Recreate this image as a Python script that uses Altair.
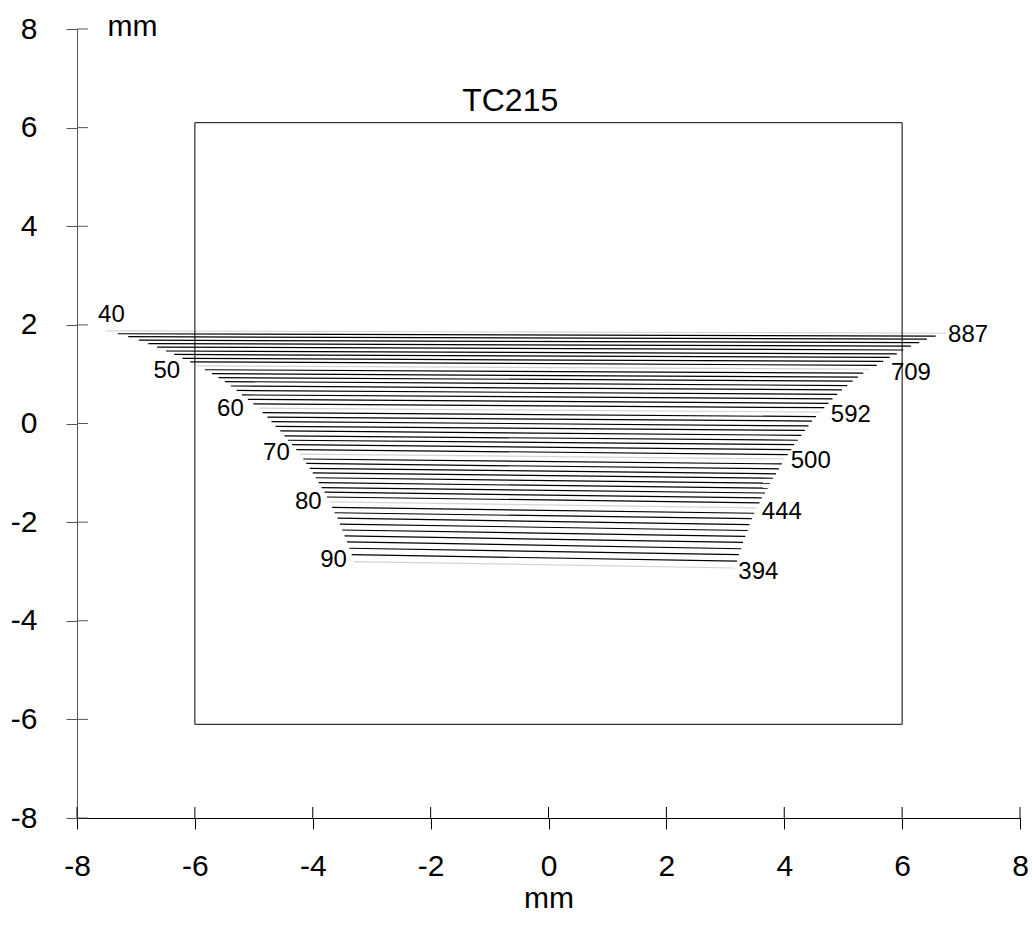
import altair as alt
import pandas as pd

# ---- data ----
angles = list(range(40, 91))
x_left = [-7.51, -7.31, -7.13, -6.95, -6.79, -6.64, -6.49, -6.35, -6.21, -6.08,
          -5.96, -5.83, -5.71, -5.60, -5.49, -5.39, -5.29, -5.20, -5.10, -5.01,
          -4.92, -4.85, -4.77, -4.70, -4.63, -4.55, -4.48, -4.42, -4.35, -4.28,
          -4.22, -4.16, -4.11, -4.05, -4.00, -3.95, -3.90, -3.85, -3.80, -3.76,
          -3.71, -3.67, -3.63, -3.58, -3.54, -3.50, -3.46, -3.42, -3.38, -3.34,
          -3.30]
y_left = [1.88, 1.82, 1.76, 1.69, 1.62, 1.55, 1.47, 1.40, 1.32, 1.25,
          1.17, 1.09, 1.01, 0.93, 0.85, 0.76, 0.67, 0.58, 0.49, 0.40,
          0.31, 0.22, 0.13, 0.04, -0.06, -0.15, -0.25, -0.34, -0.43, -0.53,
          -0.62, -0.72, -0.81, -0.91, -1.00, -1.10, -1.20, -1.30, -1.39, -1.49,
          -1.59, -1.70, -1.81, -1.92, -2.04, -2.16, -2.28, -2.40, -2.53, -2.66,
          -2.80]
x_right = [6.73, 6.57, 6.42, 6.29, 6.15, 6.02, 5.91, 5.79, 5.68, 5.57,
           5.44, 5.34, 5.25, 5.16, 5.07, 4.98, 4.90, 4.82, 4.75, 4.68,
           4.61, 4.54, 4.47, 4.41, 4.35, 4.29, 4.23, 4.17, 4.12, 4.06,
           4.01, 3.96, 3.91, 3.86, 3.81, 3.76, 3.72, 3.67, 3.62, 3.58,
           3.53, 3.49, 3.45, 3.41, 3.38, 3.34, 3.30, 3.27, 3.23, 3.20,
           3.16]
y_right = [1.83, 1.77, 1.71, 1.64, 1.57, 1.49, 1.41, 1.34, 1.26, 1.18,
           1.10, 1.02, 0.94, 0.86, 0.77, 0.68, 0.59, 0.50, 0.41, 0.32,
           0.23, 0.14, 0.05, -0.05, -0.14, -0.24, -0.34, -0.43, -0.53, -0.63,
           -0.72, -0.82, -0.92, -1.02, -1.11, -1.21, -1.31, -1.41, -1.51, -1.61,
           -1.71, -1.82, -1.93, -2.05, -2.17, -2.29, -2.41, -2.54, -2.66, -2.79,
           -2.93]

left_labels = ["40", "50", "60", "70", "80", "90"]
left_label_x = [-7.19, -6.25, -5.17, -4.39, -3.85, -3.42]
left_label_y = [2.20, 1.07, 0.30, -0.60, -1.59, -2.77]

right_labels = ["887", "709", "592", "500", "444", "394"]
right_label_x = [6.78, 5.81, 4.79, 4.11, 3.62, 3.22]
right_label_y = [1.80, 1.03, 0.17, -0.76, -1.80, -3.02]

rect_x = [-6.0, 6.0]
rect_y = [-6.1, 6.1]

title_text = ["TC215"]
title_x = [-0.65]
title_y = [6.55]

tick_values = [-8, -6, -4, -2, 0, 2, 4, 6, 8]

FONT = "Liberation Sans"
W, H = 943, 789

lines = pd.DataFrame({
    "angle": angles, "xl": x_left, "yl": y_left, "xr": x_right, "yr": y_right,
})
lines["kind"] = ["major" if a % 10 == 0 else "minor" for a in angles]

xs = alt.Scale(domain=[-8, 8], nice=False, zero=False)
ys = alt.Scale(domain=[-8, 8], nice=False, zero=False)

x_axis = alt.Axis(values=tick_values, grid=False, tickSize=11, tickColor="black",
                  domainColor="black", labelFontSize=30, labelFont=FONT,
                  labelColor="black", labelPadding=22, title="mm",
                  labelExpr="'' + datum.value",
                  titleFont=FONT, titleFontSize=30, titleFontWeight="normal",
                  titleColor="black", titlePadding=2, labelFlush=False)
y_axis = alt.Axis(values=tick_values, grid=False, tickSize=11, tickColor="#555",
                  domainColor="#555", labelFontSize=30, labelFont=FONT,
                  labelColor="black", labelPadding=29, title="mm",
                  labelExpr="'' + datum.value",
                  titleFont=FONT, titleFontSize=30, titleFontWeight="normal",
                  titleColor="black", titleAngle=0, titleAlign="left",
                  titleBaseline="middle", titleX=30, titleY=-3, labelFlush=False)

seg = alt.Chart(lines).mark_rule(strokeWidth=1.2).encode(
    x=alt.X("xl:Q", scale=xs, axis=x_axis),
    y=alt.Y("yl:Q", scale=ys, axis=y_axis),
    x2="xr:Q",
    y2="yr:Q",
    color=alt.Color("kind:N", scale=alt.Scale(domain=["major", "minor"],
                                              range=["#d4d4d4", "black"]),
                    legend=None),
)

rect_df = pd.DataFrame({"x": [rect_x[0]], "x2": [rect_x[1]],
                        "y": [rect_y[0]], "y2": [rect_y[1]]})
rect = alt.Chart(rect_df).mark_rect(fill="transparent", stroke="black", strokeWidth=1).encode(
    x=alt.X("x:Q", scale=xs), x2="x2:Q",
    y=alt.Y("y:Q", scale=ys), y2="y2:Q",
)

ll = pd.DataFrame({"t": left_labels, "x": left_label_x, "y": left_label_y})
left_txt = alt.Chart(ll).mark_text(align="right", baseline="middle", fontSize=24,
                                   font=FONT, color="black").encode(
    x=alt.X("x:Q", scale=xs), y=alt.Y("y:Q", scale=ys), text="t:N")

rl = pd.DataFrame({"t": right_labels, "x": right_label_x, "y": right_label_y})
right_txt = alt.Chart(rl).mark_text(align="left", baseline="middle", fontSize=24,
                                    font=FONT, color="black").encode(
    x=alt.X("x:Q", scale=xs), y=alt.Y("y:Q", scale=ys), text="t:N")

tt = pd.DataFrame({"t": title_text, "x": title_x, "y": title_y})
title_txt = alt.Chart(tt).mark_text(align="center", baseline="middle", fontSize=32,
                                    font=FONT, color="black").encode(
    x=alt.X("x:Q", scale=xs), y=alt.Y("y:Q", scale=ys), text="t:N")

ticks_df = pd.DataFrame({"v": tick_values})
inner_y_ticks = alt.Chart(ticks_df).mark_rule(color="#555", strokeWidth=1).encode(
    y=alt.Y("v:Q", scale=ys), x=alt.value(0), x2=alt.value(11))
inner_x_ticks = alt.Chart(ticks_df).mark_rule(color="black", strokeWidth=1).encode(
    x=alt.X("v:Q", scale=xs), y=alt.value(H), y2=alt.value(H - 11))

chart = alt.layer(seg, rect, left_txt, right_txt, title_txt,
                  inner_y_ticks, inner_x_ticks).properties(
    width=W, height=H,
    background="white",
    autosize=alt.AutoSizeParams(type="none"),
    padding={"left": 77, "top": 29, "right": 12, "bottom": 107},
).configure_view(strokeWidth=0, stroke="transparent")

chart.save("out.html", embed_options={"renderer": "svg", "actions": False})
